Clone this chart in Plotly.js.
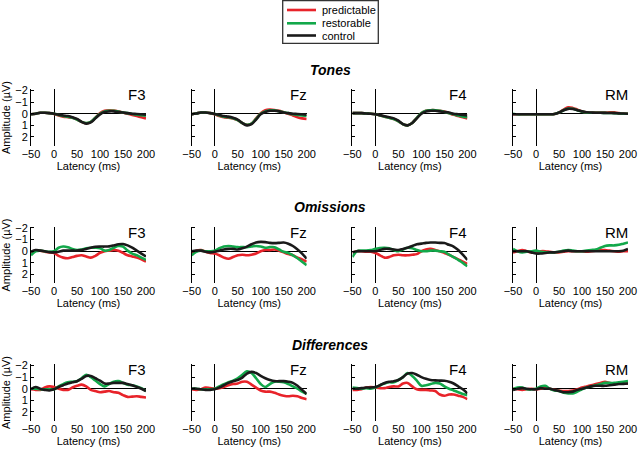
<!DOCTYPE html>
<html>
<head>
<meta charset="utf-8">
<script src="https://cdn.plot.ly/plotly-3.0.1.min.js"></script>
<style>html,body{margin:0;padding:0;background:#fff;}#chart{width:640px;height:450px;}</style>
</head>
<body>
<div id="chart"></div>
<script>
// ---- data ----
const times = [-50,-40,-30,-20,-10,0,10,20,30,40,50,60,70,80,90,100,110,120,130,140,150,160,170,180,190,200];
const conditions = ['predictable','restorable','control'];
const electrodes = ['F3','Fz','F4','RM'];
const blocks = ['Tones','Omissions','Differences'];
const xTickVals = [-50,0,50,100,150,200];
const yTickVals = [-2,-1,0,1,2];

// Tones
const tonesF3Pred = [0.05,0,-0.08,-0.08,-0.05,0.02,0.15,0.25,0.3,0.35,0.5,0.7,0.82,0.7,0.35,-0.05,-0.25,-0.3,-0.28,-0.2,-0.1,0,0.1,0.2,0.3,0.4];
const tonesF3Rest = [0.05,0,-0.08,-0.08,-0.05,0,0.1,0.2,0.25,0.35,0.5,0.7,0.8,0.7,0.35,0,-0.2,-0.25,-0.25,-0.18,-0.1,-0.05,0.02,0.08,0.12,0.18];
const tonesF3Ctrl = [0.05,0,-0.08,-0.08,-0.05,0,0.08,0.15,0.2,0.3,0.45,0.7,0.85,0.75,0.4,0.05,-0.15,-0.2,-0.2,-0.15,-0.1,-0.05,0,0.02,0.05,0.08];
const tonesFzPred = [0.05,-0.02,-0.1,-0.1,-0.05,0.05,0.2,0.3,0.35,0.4,0.55,0.8,0.95,0.85,0.4,-0.05,-0.3,-0.35,-0.32,-0.25,-0.12,0,0.15,0.3,0.4,0.45];
const tonesFzRest = [0.05,-0.02,-0.1,-0.1,-0.05,0.02,0.15,0.25,0.3,0.4,0.55,0.8,0.95,0.85,0.45,0,-0.2,-0.3,-0.28,-0.22,-0.12,-0.05,0.05,0.1,0.15,0.2];
const tonesFzCtrl = [0.05,-0.02,-0.1,-0.1,-0.05,0.02,0.1,0.2,0.25,0.35,0.5,0.8,1.0,0.9,0.5,0.05,-0.15,-0.25,-0.25,-0.2,-0.1,-0.05,0,0.02,0.05,0.08];
const tonesF4Pred = [-0.05,-0.05,-0.05,-0.02,0,0.05,0.15,0.25,0.35,0.45,0.65,0.9,1.0,0.8,0.35,-0.05,-0.25,-0.3,-0.3,-0.25,-0.2,-0.05,0.1,0.2,0.3,0.4];
const tonesF4Rest = [-0.05,-0.05,-0.05,-0.02,0,0.05,0.15,0.25,0.35,0.45,0.65,0.9,1.0,0.8,0.35,-0.05,-0.25,-0.3,-0.3,-0.25,-0.15,-0.05,0.05,0.15,0.25,0.3];
const tonesF4Ctrl = [-0.05,-0.05,-0.05,-0.02,0,0.05,0.12,0.22,0.3,0.4,0.6,0.9,1.0,0.8,0.4,0,-0.2,-0.25,-0.25,-0.2,-0.15,-0.1,0,0.05,0.1,0.15];
const tonesRMPred = [0.05,0.05,0.05,0.05,0.05,0.05,0.05,0.05,0.05,0.03,-0.1,-0.35,-0.55,-0.5,-0.35,-0.2,-0.12,-0.1,-0.1,-0.1,-0.1,-0.12,-0.12,-0.05,-0.02,0];
const tonesRMRest = [0,0.05,0.05,0.05,0.05,0.05,0.05,0.05,0.05,0.03,-0.1,-0.3,-0.45,-0.42,-0.3,-0.18,-0.1,-0.08,-0.08,-0.08,-0.07,-0.06,-0.05,-0.03,0,0];
const tonesRMCtrl = [0.05,0.05,0.05,0.05,0.05,0.05,0.05,0.05,0.05,0.03,-0.1,-0.3,-0.42,-0.4,-0.3,-0.2,-0.12,-0.1,-0.08,-0.08,-0.07,-0.06,-0.05,-0.03,-0.02,0];

// Omissions
const omisF3Pred = [0.1,-0.05,-0.05,0.05,0.1,0.15,0.4,0.55,0.6,0.5,0.4,0.35,0.45,0.55,0.4,0.15,0,-0.05,-0.1,-0.05,0.15,0.35,0.45,0.55,0.7,0.9];
const omisF3Rest = [0.35,0,-0.05,0,0.05,0,-0.3,-0.4,-0.35,-0.2,-0.1,-0.15,-0.25,-0.3,-0.3,-0.25,-0.05,-0.1,-0.3,-0.45,-0.4,-0.05,0.2,0.35,0.55,0.75];
const omisF3Ctrl = [0.05,-0.1,-0.05,0,0.08,0.1,0.05,-0.05,-0.05,-0.05,-0.05,-0.1,-0.2,-0.3,-0.38,-0.4,-0.4,-0.42,-0.5,-0.6,-0.62,-0.5,-0.3,-0.05,0.2,0.45];
const omisFzPred = [0.15,-0.05,-0.1,0.05,0.15,0.2,0.35,0.55,0.65,0.5,0.35,0.3,0.35,0.3,0.2,0,-0.1,-0.1,-0.15,-0.05,0.1,0.25,0.35,0.55,0.7,0.9];
const omisFzRest = [0.35,0.05,-0.05,0,0,-0.05,-0.25,-0.4,-0.45,-0.4,-0.35,-0.35,-0.35,-0.4,-0.45,-0.4,-0.3,-0.35,-0.35,-0.15,0.05,0.15,0.35,0.6,0.9,1.2];
const omisFzCtrl = [0,-0.05,-0.05,0.05,0.1,0.05,-0.05,-0.15,-0.2,-0.2,-0.15,-0.25,-0.4,-0.6,-0.75,-0.8,-0.78,-0.72,-0.7,-0.72,-0.75,-0.65,-0.45,-0.15,0.2,0.65];
const omisF4Pred = [0.1,0,0,0.05,0.05,0.15,0.35,0.55,0.5,0.35,0.3,0.35,0.35,0.3,0.25,0,-0.15,-0.2,-0.1,0,0.15,0.3,0.5,0.7,0.9,1.1];
const omisF4Rest = [0.5,0,-0.05,-0.05,-0.1,-0.2,-0.28,-0.3,-0.25,-0.1,0,-0.15,-0.3,-0.25,-0.1,0,0,-0.05,-0.05,0,0.05,0.3,0.5,0.75,1.0,1.3];
const omisF4Ctrl = [0.1,0,0,0,0,0,-0.1,-0.2,-0.2,-0.15,-0.1,-0.2,-0.3,-0.45,-0.6,-0.65,-0.72,-0.75,-0.75,-0.72,-0.7,-0.55,-0.4,-0.1,0.3,0.75];
const omisRMPred = [0.1,0,-0.1,0,0.1,0.05,0,0,0.05,0.1,0.1,0.05,0,0,0,0,0.05,0,-0.05,-0.1,-0.1,-0.05,0,0.05,0,0];
const omisRMRest = [-0.2,0,0.1,0.05,0,-0.05,0.05,0.1,0.1,0.1,0.05,-0.05,-0.1,-0.05,0,0,-0.05,-0.1,-0.15,-0.3,-0.45,-0.5,-0.5,-0.55,-0.65,-0.75];
const omisRMCtrl = [0,0,0,0,0.1,0.2,0.2,0.15,0.1,0.1,0.05,0,-0.05,0,0,0,0,0,0,0,0,0,0,0,-0.05,-0.2];

// Differences
const diffF3Pred = [0.05,0.1,0.1,-0.1,-0.2,-0.15,0,0.1,0.1,-0.1,-0.25,-0.35,-0.2,0.1,0.2,0.3,0.25,0.2,0.3,0.35,0.55,0.7,0.68,0.65,0.7,0.75];
const diffF3Rest = [0,0,0.05,0.05,0.05,0.05,-0.2,-0.4,-0.55,-0.6,-0.65,-0.9,-1.2,-1.0,-0.7,-0.4,-0.2,-0.4,-0.6,-0.65,-0.5,-0.35,-0.3,-0.2,-0.05,0.2];
const diffF3Ctrl = [0.05,-0.15,0,0.1,0.15,0.05,-0.15,-0.3,-0.45,-0.55,-0.65,-0.85,-1.1,-1.1,-0.9,-0.7,-0.45,-0.45,-0.5,-0.5,-0.5,-0.4,-0.3,-0.15,0,0.2];
const diffFzPred = [0.05,0.1,0.05,-0.1,-0.05,0,-0.05,-0.15,-0.3,-0.4,-0.45,-0.6,-0.6,-0.35,-0.1,0.15,0.25,0.25,0.35,0.5,0.6,0.65,0.6,0.65,0.8,0.9];
const diffFzRest = [0,0,0.05,0.05,0.05,0,-0.2,-0.4,-0.55,-0.7,-0.9,-1.2,-1.5,-1.35,-0.9,-0.4,-0.15,-0.4,-0.6,-0.6,-0.55,-0.4,-0.2,0,0.25,0.45];
const diffFzCtrl = [0,0,0.05,0.1,0.1,0.05,-0.1,-0.3,-0.5,-0.65,-0.75,-0.95,-1.3,-1.45,-1.35,-1.1,-0.9,-0.75,-0.65,-0.65,-0.65,-0.6,-0.5,-0.25,0.1,0.45];
const diffF4Pred = [0.1,0.1,0.05,-0.1,-0.15,-0.1,-0.05,-0.05,-0.15,-0.2,-0.2,-0.45,-0.5,-0.2,0.05,0.1,0.1,0.15,0.2,0.5,0.6,0.5,0.5,0.6,0.7,0.9];
const diffF4Rest = [-0.1,-0.05,0,-0.05,0,-0.1,-0.3,-0.45,-0.55,-0.55,-0.75,-1.0,-1.35,-1.1,-0.7,-0.25,-0.3,-0.4,-0.5,-0.45,-0.2,0,0.15,0.3,0.45,0.55];
const diffF4Ctrl = [0,0,-0.05,-0.1,-0.1,-0.15,-0.3,-0.5,-0.6,-0.65,-0.75,-1.0,-1.3,-1.35,-1.2,-1.0,-0.85,-0.75,-0.72,-0.7,-0.68,-0.6,-0.45,-0.2,0.05,0.4];
const diffRMPred = [0,0.05,0.1,0.05,0,0.05,0,-0.05,0,0.1,0.15,0.2,0.2,0.15,0.05,-0.1,-0.2,-0.3,-0.4,-0.5,-0.6,-0.5,-0.45,-0.45,-0.45,-0.45];
const diffRMRest = [0.05,-0.1,-0.1,0.05,0.05,0,-0.2,-0.25,0,0.15,0.2,0.35,0.4,0.4,0.25,0.05,-0.1,-0.2,-0.3,-0.4,-0.5,-0.5,-0.5,-0.55,-0.6,-0.65];
const diffRMCtrl = [0.1,0,-0.05,0,0.05,0.05,-0.05,0,0,0.1,0.2,0.3,0.3,0.25,0.1,0,-0.1,-0.2,-0.25,-0.25,-0.25,-0.3,-0.35,-0.4,-0.42,-0.45];

// ---- assemble ----
const panelData = [
  [[tonesF3Pred,tonesF3Rest,tonesF3Ctrl],[tonesFzPred,tonesFzRest,tonesFzCtrl],[tonesF4Pred,tonesF4Rest,tonesF4Ctrl],[tonesRMPred,tonesRMRest,tonesRMCtrl]],
  [[omisF3Pred,omisF3Rest,omisF3Ctrl],[omisFzPred,omisFzRest,omisFzCtrl],[omisF4Pred,omisF4Rest,omisF4Ctrl],[omisRMPred,omisRMRest,omisRMCtrl]],
  [[diffF3Pred,diffF3Rest,diffF3Ctrl],[diffFzPred,diffFzRest,diffFzCtrl],[diffF4Pred,diffF4Rest,diffF4Ctrl],[diffRMPred,diffRMRest,diffRMCtrl]]
];
const colors = ['#e8232a','#12a84a','#1a1a1a'];
const FONT = 'Liberation Sans, Arial, Helvetica, sans-serif';
const W = 640, H = 450;
const colLeft = [31, 191.7, 352.4, 513];
const panelW = 115;
const rowTop = [89.3, 226.8, 364.3];
const panelH = 56.4;

const traces = [];
const layout = {
  width: W, height: H,
  margin: {l:0, r:0, t:0, b:0},
  paper_bgcolor: '#fff', plot_bgcolor: 'rgba(0,0,0,0)',
  font: {family: FONT, size: 11, color: '#000'},
  showlegend: false,
  annotations: [], shapes: []
};

let k = 0;
for (let r = 0; r < 3; r++) {
  for (let c = 0; c < 4; c++) {
    k++;
    const xa = 'xaxis' + (k === 1 ? '' : k), ya = 'yaxis' + (k === 1 ? '' : k);
    const xr = 'x' + (k === 1 ? '' : k), yr = 'y' + (k === 1 ? '' : k);
    layout[xa] = {
      domain: [colLeft[c]/W, (colLeft[c]+panelW)/W], anchor: yr,
      range: [-50, 200], showline: false, showgrid: false, ticks: '',
      zeroline: true, zerolinecolor: '#000', zerolinewidth: 1,
      tickvals: xTickVals, tickfont: {size: 11},
      title: {text: 'Latency (ms)', font: {size: 11}, standoff: 2}
    };
    layout[ya] = {
      domain: [1-(rowTop[r]+panelH)/H, 1-rowTop[r]/H], anchor: xr,
      range: [2.75, -2.1], showline: true, linecolor: '#000', linewidth: 1,
      showgrid: false, zeroline: true, zerolinecolor: '#000', zerolinewidth: 1,
      ticks: 'inside', ticklen: 3, tickcolor: '#000', tickvals: yTickVals,
      showticklabels: c === 0, tickfont: {size: 11},
      title: c === 0 ? {text: 'Amplitude (µV)', font: {size: 11}, standoff: 4} : {text: ''}
    };
    for (let s = 0; s < 3; s++) {
      traces.push({
        x: times, y: panelData[r][c][s], xaxis: xr, yaxis: yr,
        type: 'scatter', mode: 'lines', name: conditions[s],
        legendgroup: conditions[s], showlegend: false,
        line: {color: colors[s], width: 2.6, shape: 'spline', smoothing: 1}
      });
    }
    layout.annotations.push({
      text: electrodes[c], xref: 'paper', yref: 'paper',
      x: (colLeft[c]+panelW+2)/W, xanchor: 'right',
      y: 1-(rowTop[r]-5)/H, yanchor: 'top', showarrow: false,
      font: {size: 15, family: FONT}
    });
  }
  layout.annotations.push({
    text: '<b><i>' + blocks[r] + '</i></b>', xref: 'paper', yref: 'paper',
    x: 330/W, xanchor: 'center', y: 1-(rowTop[r]-19.5)/H, yanchor: 'middle',
    showarrow: false, font: {size: 14, family: FONT}
  });
}

// legend box (key for the three conditions)
const legTop = 0.5, legBottom = 43.3, legLeft = 282.7, legRight = 378.3;
const legRows = [10, 23.3, 35.5];
layout.shapes.push({type: 'rect', xref: 'paper', yref: 'paper',
  x0: legLeft/W, x1: legRight/W, y0: 1-legBottom/H, y1: 1-legTop/H,
  line: {color: '#333', width: 1.3}, fillcolor: '#fff'});
conditions.forEach((name, i) => {
  layout.shapes.push({type: 'line', xref: 'paper', yref: 'paper',
    x0: 287/W, x1: 316/W, y0: 1-legRows[i]/H, y1: 1-legRows[i]/H,
    line: {color: colors[i], width: 2.6}});
  layout.annotations.push({text: name, xref: 'paper', yref: 'paper',
    x: 319.5/W, xanchor: 'left', y: 1-legRows[i]/H, yanchor: 'middle',
    showarrow: false, font: {size: 11, family: FONT}});
});

Plotly.newPlot('chart', traces, layout, {displayModeBar: false, staticPlot: true});
</script>
</body>
</html>
